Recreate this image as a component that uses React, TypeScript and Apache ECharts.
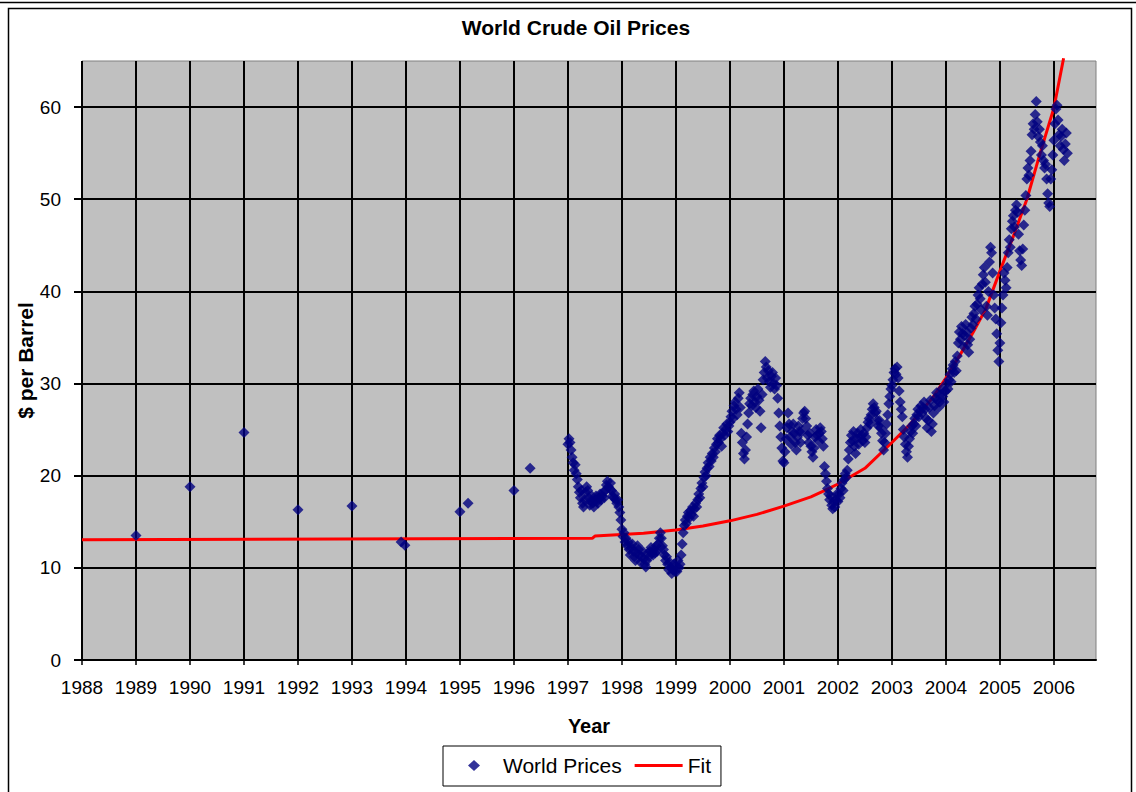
import React, { useEffect, useRef } from 'react';
import * as echarts from 'echarts';

const FONT = '"Liberation Sans", Arial, Helvetica, sans-serif';

const xTickYears = [1988, 1989, 1990, 1991, 1992, 1993, 1994, 1995, 1996, 1997, 1998, 1999, 2000, 2001, 2002, 2003, 2004, 2005, 2006];
const yTickValues = [0, 10, 20, 30, 40, 50, 60];

// sparse early observations
const earlyYears = [1989.0, 1990.0, 1991.0, 1992.0, 1993.0, 1993.91, 1993.98, 1995.0, 1995.15, 1996.0, 1996.3];
const earlyPrices = [13.5, 18.8, 24.7, 16.3, 16.7, 12.8, 12.45, 16.1, 17.0, 18.4, 20.8];

// weekly observations (52 per year, starting at the year mark)
const weekly1997 = [23.4, 24.0, 23.6, 22.8, 22.0, 21.4, 20.6, 21.2, 20.2, 19.6,
  18.8, 18.2, 17.6, 18.4, 17.0, 16.6, 17.4, 18.2, 18.8, 18.4,
  17.6, 16.8, 17.2, 17.8, 17.0, 16.6, 17.4, 17.8, 17.2, 17.0,
  17.6, 18.0, 17.4, 17.8, 18.2, 17.6, 18.4, 19.0, 19.4, 18.8,
  18.6, 19.2, 18.4, 17.8, 17.6, 18.0, 17.4, 17.0, 17.4, 16.6, 16.0, 15.2];
const weekly1998 = [14.2, 13.4, 13.8, 12.8, 13.2, 12.4, 12.8, 12.0, 11.4, 12.2,
  12.6, 11.8, 11.2, 10.8, 11.6, 12.4, 12.0, 11.4, 10.6, 11.2,
  11.8, 11.0, 10.4, 10.1, 10.8, 11.6, 11.2, 11.8, 12.2, 11.6,
  11.4, 12.0, 11.6, 12.4, 11.8, 12.6, 13.2, 13.8, 13.2, 12.4,
  12.0, 11.4, 10.8, 11.2, 10.4, 9.8, 10.6, 10.0, 9.4, 9.8, 10.4, 9.6];
const weekly1999 = [10.2, 9.6, 10.8, 10.0, 10.4, 11.4, 12.6, 13.8, 14.6, 15.2,
  14.8, 15.6, 16.0, 15.4, 16.2, 15.8, 16.6, 15.6, 16.4, 17.0,
  16.6, 17.4, 18.0, 17.6, 18.6, 19.2, 18.8, 19.8, 20.4, 20.0,
  20.8, 21.4, 21.0, 22.0, 21.6, 22.4, 22.0, 23.0, 22.6, 23.4,
  24.0, 23.6, 24.4, 24.0, 23.2, 24.6, 25.2, 24.4, 25.0, 25.6, 24.8, 25.4];
const weekly2000 = [25.8, 26.4, 27.0, 26.2, 27.6, 28.0, 27.2, 26.6, 28.4, 29.0,
  27.4, 24.6, 23.6, 22.4, 21.8, 22.8, 24.2, 25.6, 26.8, 27.8,
  28.4, 27.6, 28.8, 29.2, 28.0, 27.4, 28.6, 29.4, 28.2, 27.0,
  25.2, 28.8, 30.4, 31.2, 32.4, 31.8, 30.6, 31.4, 30.2, 29.6,
  30.8, 31.2, 30.0, 29.4, 30.6, 29.8, 28.4, 26.8, 25.4, 24.2, 23.0, 21.6];
const weekly2001 = [21.4, 22.6, 24.0, 25.2, 26.8, 25.6, 24.2, 23.4, 24.8, 25.6,
  24.6, 23.6, 22.8, 24.2, 25.4, 24.8, 23.6, 24.8, 26.2, 26.8,
  27.0, 26.2, 25.4, 24.4, 23.6, 24.6, 23.2, 22.6, 22.0, 23.0,
  24.2, 25.0, 24.4, 23.8, 24.6, 25.2, 24.8, 24.0, 23.2, 21.0,
  20.2, 19.4, 18.6, 18.0, 17.4, 17.8, 16.8, 16.4, 17.2, 16.6, 17.4, 18.0];
const weekly2002 = [17.2, 18.0, 17.6, 18.6, 19.2, 18.4, 19.6, 20.2, 19.8, 20.6,
  21.8, 22.8, 23.6, 24.4, 23.8, 24.8, 23.2, 22.4, 24.0, 24.6,
  23.4, 24.2, 25.0, 24.4, 23.8, 24.6, 23.6, 24.2, 25.2, 25.8,
  26.2, 25.6, 26.6, 27.2, 27.8, 27.4, 26.8, 27.0, 26.0, 25.4,
  26.0, 25.2, 24.6, 23.8, 22.8, 23.6, 24.6, 25.6, 26.6, 27.8, 28.6, 29.4];
const weekly2003 = [29.8, 30.4, 31.2, 31.6, 31.0, 31.8, 30.6, 29.2, 28.0, 27.2,
  26.4, 25.0, 24.2, 23.4, 22.6, 22.0, 23.2, 24.0, 24.8, 25.4,
  24.6, 25.6, 26.2, 25.4, 26.6, 27.2, 26.4, 27.0, 27.6, 26.8,
  27.4, 28.0, 27.2, 26.2, 25.2, 26.0, 27.4, 28.2, 24.8, 25.6,
  26.8, 27.6, 28.4, 29.0, 28.2, 27.4, 28.0, 28.8, 29.4, 28.6, 28.0, 29.2];
const weekly2004 = [29.2, 30.0, 29.4, 30.4, 31.0, 30.2, 31.6, 32.0, 31.2, 32.4,
  31.4, 33.0, 34.4, 35.6, 34.8, 36.2, 35.4, 34.0, 35.2, 36.4,
  35.6, 34.2, 33.4, 34.8, 36.0, 37.2, 36.4, 37.6, 38.4, 37.0,
  38.6, 39.6, 40.4, 39.2, 38.0, 40.8, 41.8, 42.6, 41.0, 38.4,
  37.4, 40.0, 43.2, 44.8, 44.2, 42.0, 39.6, 38.2, 37.0, 35.4, 33.6, 32.4];
const weekly2005 = [34.4, 36.6, 38.2, 39.6, 42.0, 41.2, 40.4, 42.6, 44.2, 45.6,
  44.8, 46.8, 47.6, 48.2, 47.0, 48.8, 49.4, 48.6, 46.2, 44.4,
  43.4, 42.8, 44.6, 47.2, 48.8, 50.4, 52.2, 53.4, 52.6, 54.2,
  55.2, 57.0, 58.2, 57.6, 59.2, 60.6, 58.4, 56.8, 57.6, 56.2,
  54.8, 55.8, 54.2, 53.4, 53.8, 52.2, 50.6, 49.6, 49.2, 52.2, 53.2, 54.8];
const weekly2006 = [56.4, 58.2, 59.8, 60.2, 58.6, 57.0, 55.8, 56.8, 57.6, 55.4, 54.2, 56.0, 57.2, 55.0];

// fitted curve
const fitYears = [1988.0, 1997.45, 1997.5, 1998.4, 1999.0, 1999.5, 2000.0, 2000.5, 2001.0, 2001.5, 2001.76, 2002.0, 2002.5, 2003.0, 2003.31, 2003.76, 2004.0, 2004.25, 2004.5, 2004.74, 2005.0, 2005.25, 2005.5, 2005.74, 2006.0, 2006.18];
const fitValues = [13.05, 13.2, 13.45, 13.75, 14.1, 14.55, 15.1, 15.8, 16.7, 17.7, 18.4, 19.1, 20.8, 23.6, 25.4, 28.5, 30.6, 33.0, 35.5, 38.1, 42.2, 46.0, 50.0, 54.9, 59.9, 65.3];

const weeklyByYear: [number, number[]][] = [
  [1997, weekly1997], [1998, weekly1998], [1999, weekly1999], [2000, weekly2000],
  [2001, weekly2001], [2002, weekly2002], [2003, weekly2003], [2004, weekly2004],
  [2005, weekly2005], [2006, weekly2006],
];

// legend icons laid out in a 48x11 box (corner move-tos fix the bounding box)
const DIAMOND_ICON = 'path://M0,0 L0,0 M48,11 L48,11 M24,-0.5 L30,5.5 L24,11.5 L18,5.5 Z';
const LINE_ICON = 'path://M0,0 L0,0 M48,11 L48,11 M0,4 L48,4 L48,7 L0,7 Z';

export default function App() {
  const ref = useRef<HTMLDivElement>(null);
  useEffect(() => {
    if (!ref.current) return;
    const chart = echarts.init(ref.current, null, { renderer: 'svg' });
    const scatterData: number[][] = earlyYears.map((y, i) => [y, earlyPrices[i]]);
    weeklyByYear.forEach(([yr, arr]) => arr.forEach((v, i) => scatterData.push([yr + i / 52, v])));
    const fitData = fitYears.map((y, i) => [y, fitValues[i]]);

    chart.setOption({
      animation: false,
      backgroundColor: '#ffffff',
      textStyle: { fontFamily: FONT },
      title: {
        text: 'World Crude Oil Prices',
        left: 571,
        top: 12,
        textAlign: 'center',
        textStyle: { fontSize: 21, fontWeight: 'bold', color: '#000', fontFamily: FONT },
      },
      grid: {
        left: 82, top: 61, right: 40, bottom: 132,
        show: true, backgroundColor: '#C0C0C0', borderColor: '#808080', borderWidth: 1,
      },
      xAxis: {
        type: 'value', min: 1988, max: 2006.78, interval: 1,
        name: 'Year', nameLocation: 'middle', nameGap: 56, nameMoveOverlap: false,
        nameTextStyle: { fontSize: 20, fontWeight: 'bold', color: '#000', fontFamily: FONT },
        axisLine: { show: true, onZero: false, lineStyle: { color: '#000', width: 2 } },
        axisTick: { show: true, length: 5, customValues: xTickYears, lineStyle: { color: '#000', width: 1.5 } },
        axisLabel: { customValues: xTickYears, color: '#000', fontSize: 19, margin: 18, fontFamily: FONT, formatter: (v: number) => String(v) },
        splitLine: { show: true, lineStyle: { color: '#000', width: 2 } },
      },
      yAxis: {
        type: 'value', min: 0, max: 65, interval: 10,
        name: '$ per Barrel', nameLocation: 'middle', nameGap: 46, nameRotate: 90, nameMoveOverlap: false,
        nameTextStyle: { fontSize: 21, fontWeight: 'bold', color: '#000', fontFamily: FONT },
        axisLine: { show: false },
        axisTick: { show: true, length: 8, customValues: yTickValues, lineStyle: { color: '#000', width: 2 } },
        axisLabel: { customValues: yTickValues, color: '#000', fontSize: 19, margin: 21, fontFamily: FONT, formatter: (v: number) => String(v) },
        splitLine: { show: true, lineStyle: { color: '#000', width: 2 } },
      },
      legend: {
        left: 443, top: 746, orient: 'horizontal',
        itemWidth: 48, itemHeight: 11, itemGap: 13,
        padding: [9, 10, 10, 7],
        borderColor: '#000', borderWidth: 1, backgroundColor: '#fff',
        textStyle: { fontSize: 21, color: '#000', fontFamily: FONT },
        selectedMode: false,
        symbolKeepAspect: false,
        data: [
          { name: 'World Prices', icon: DIAMOND_ICON, itemStyle: { color: '#000080' } },
          { name: 'Fit', icon: LINE_ICON, itemStyle: { color: '#FF0000' } },
        ],
      },
      series: [
        {
          name: 'World Prices', type: 'scatter', symbol: 'diamond', symbolSize: 11,
          itemStyle: { color: '#000080' }, data: scatterData, z: 3,
        },
        {
          name: 'Fit', type: 'line', data: fitData, symbol: 'none', showSymbol: false, smooth: false,
          lineStyle: { color: '#FF0000', width: 3 }, itemStyle: { color: '#FF0000' }, clip: false, z: 2,
        },
      ],
      graphic: [
        { type: 'line', silent: true, shape: { x1: 0, y1: 2.5, x2: 1136, y2: 2.5 }, style: { stroke: '#000', lineWidth: 1.5 } },
        { type: 'rect', silent: true, shape: { x: 8.5, y: 8.5, width: 1123, height: 800 }, style: { fill: 'none', stroke: '#000', lineWidth: 1.5 } },
      ],
    });
    return () => chart.dispose();
  }, []);
  return <div ref={ref} style={{ position: 'fixed', left: 0, top: 0, width: 1136, height: 792 }} />;
}
